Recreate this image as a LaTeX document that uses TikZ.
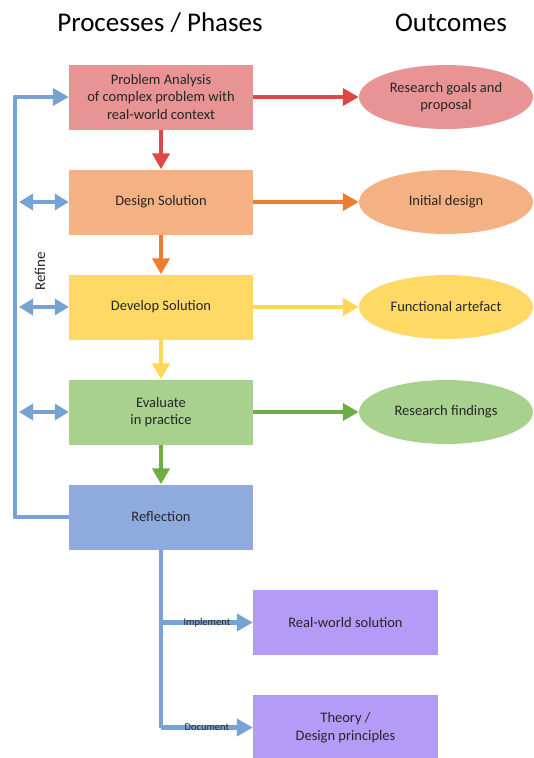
\documentclass[tikz,border=0pt]{standalone}
\usepackage{fontspec}
\setmainfont{Carlito}
\usetikzlibrary{shapes.geometric,arrows.meta}
\definecolor{redF}{HTML}{E99494}
\definecolor{redA}{HTML}{DF4747}
\definecolor{orF}{HTML}{F4B183}
\definecolor{orA}{HTML}{ED7D31}
\definecolor{yeF}{HTML}{FFD966}
\definecolor{yeA}{HTML}{FFD757}
\definecolor{grF}{HTML}{A9D18E}
\definecolor{grA}{HTML}{6EAD45}
\definecolor{blF}{HTML}{8FAADC}
\definecolor{blA}{HTML}{76A3D4}
\definecolor{puF}{HTML}{B49BF7}
\definecolor{txt}{HTML}{262626}
\tikzset{
  phase/.style={rectangle, minimum width=184pt, minimum height=65pt, inner sep=0pt, align=center, font=\fontsize{14.5}{17.5}\selectfont, text=txt},
  outc/.style={ellipse, minimum width=174pt, minimum height=64pt, inner sep=0pt, align=center, font=\fontsize{14.5}{17.5}\selectfont, text=txt},
  res/.style={rectangle, minimum width=185pt, minimum height=65pt, inner sep=0pt, align=center, font=\fontsize{14.5}{17.5}\selectfont, text=txt, fill=puF},
  arr/.style={line width=4.8pt, -{Triangle[length=16pt,width=17pt]}},
  darr/.style={line width=4.8pt, {Triangle[length=14pt,width=16pt]}-{Triangle[length=14pt,width=16pt]}, blA},
  title/.style={font=\fontsize{27}{32}\selectfont, text=black},
  lbl/.style={font=\fontsize{10.5}{12}\selectfont, text=txt, inner sep=0pt}
}
\begin{document}
\begin{tikzpicture}[x=1pt,y=-1pt]
\useasboundingbox (0,0) rectangle (534,758);
\clip (0,0) rectangle (534,758);
\node[title] (t1) at (160,23) {Processes / Phases};
\node[title] (t2) at (451,23) {Outcomes};

\node[phase, fill=redF] (p1) at (161,97) {Problem Analysis\\of complex problem with\\real-world context};
\node[phase, fill=orF] (p2) at (161,202) {Design Solution};
\node[phase, fill=yeF] (p3) at (161,307) {Develop Solution};
\node[phase, fill=grF] (p4) at (161,412) {Evaluate\\in practice};
\node[phase, fill=blF] (p5) at (161,517) {Reflection};

\node[outc, fill=redF] (o1) at (446,97) {Research goals and\\proposal};
\node[outc, fill=orF] (o2) at (446,202) {Initial design};
\node[outc, fill=yeF] (o3) at (446,307) {Functional artefact};
\node[outc, fill=grF] (o4) at (446,412) {Research findings};

\node[res] (r1) at (345.5,622.5) {Real-world solution};
\node[res] (r2) at (345.5,727.5) {Theory /\\Design principles};

\draw[arr, redA] (p1.east) -- (o1.west);
\draw[arr, orA] (p2.east) -- (o2.west);
\draw[arr, yeA] (p3.east) -- (o3.west);
\draw[arr, grA] (p4.east) -- (o4.west);

\draw[arr, redA] (p1.south) -- (p2.north);
\draw[arr, orA] (p2.south) -- (p3.north);
\draw[arr, yeA] (p3.south) -- (p4.north);
\draw[arr, grA] (p4.south) -- (p5.north);

\coordinate (lb) at (15,517);
\coordinate (lt) at (15,97);
\draw[arr, blA, line join=round] (p5.west) -- (lb) -- (lt) -- (p1.west);
\coordinate (d2) at (19,202);
\coordinate (d3) at (19,307);
\coordinate (d4) at (19,412);
\draw[darr] (d2) -- (p2.west);
\draw[darr] (d3) -- (p3.west);
\draw[darr] (d4) -- (p4.west);
\node[rotate=90, font=\fontsize{15}{18}\selectfont, text=txt] (refine) at (40,271) {Refine};

\coordinate (bb) at (161,727.5);
\coordinate (bm) at (161,622.5);
\draw[blA, line width=4.8pt, line join=round] (p5.south) -- (bb);
\draw[arr, blA] (bm) -- node[lbl, pos=0.5] (l1) {Implement} (r1.west);
\draw[arr, blA] (bb) -- node[lbl, pos=0.5] (l2) {Document} (r2.west);
\end{tikzpicture}
\end{document}
